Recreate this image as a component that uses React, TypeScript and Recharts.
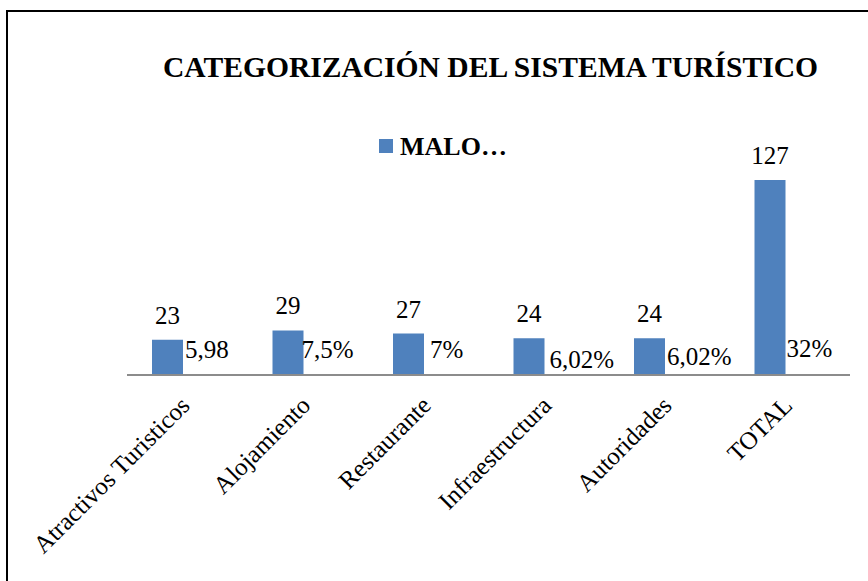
import React from "react";
import { BarChart, Bar, XAxis, YAxis, LabelList } from "recharts";

const categories = [
  "Atractivos Turisticos",
  "Alojamiento",
  "Restaurante",
  "Infraestructura",
  "Autoridades",
  "TOTAL",
];
const malo = [23, 29, 27, 24, 24, 127];
// second series in the original workbook, drawn without fill: only its labels show
const porcentaje = [5.98, 7.5, 7, 6.02, 6.02, 32];
const pctLabels = ["5,98", "7,5%", "7%", "6,02%", "6,02%", "32%"];

// hand-placed percentage labels: x nudge from the hidden bar's left edge, rise above the baseline
const pctNudge = [
  { dx: -6, rise: 17 },
  { dx: -10, rise: 17 },
  { dx: -2, rise: 17 },
  { dx: -3, rise: 7 },
  { dx: -6, rise: 10 },
  { dx: -7, rise: 18 },
];

const data = categories.map((name, i) => ({
  name,
  malo: malo[i],
  porcentaje: porcentaje[i],
  pct: pctLabels[i],
}));

const SERIF = "Liberation Serif, Times New Roman, serif";
const BLUE = "#4F81BD";
const serifStyle = { fontFamily: SERIF };

function CategoryTick(props: any) {
  const { x, y, payload } = props;
  const ax = x + 4;
  const ay = y + 24;
  return (
    <text
      x={ax}
      y={ay}
      textAnchor="end"
      transform={`rotate(-45, ${ax}, ${ay})`}
      style={serifStyle}
      fontSize={25}
      fill="#000"
    >
      {payload.value}
    </text>
  );
}

function PctLabel(props: any) {
  const { x, y, height, index } = props;
  const n = pctNudge[index] || { dx: 0, rise: 17 };
  return (
    <text x={x + n.dx} y={y + height - n.rise} style={serifStyle} fontSize={25} fill="#000">
      {pctLabels[index]}
    </text>
  );
}

function ValueLabel(props: any) {
  const { x, y, width, value } = props;
  return (
    <text x={x + width / 2} y={y - 16} textAnchor="middle" style={serifStyle} fontSize={25} fill="#000">
      {value}
    </text>
  );
}

export default function App() {
  return (
    <div
      style={{
        position: "absolute",
        left: 0,
        top: 0,
        width: 868,
        height: 581,
        overflow: "hidden",
        background: "#fff",
        fontFamily: SERIF,
      }}
    >
      {/* chart frame, runs off the right and bottom edges */}
      <div
        style={{
          position: "absolute",
          left: 6,
          top: 10,
          width: 1000,
          height: 800,
          border: "2px solid #000",
        }}
      />
      <div style={{ position: "absolute", left: 0, top: 0 }}>
        <BarChart
          width={868}
          height={581}
          data={data}
          margin={{ top: 160, right: 18, bottom: 146, left: 127 }}
          barSize={31}
          barGap={8}
        >
          <XAxis
            dataKey="name"
            height={60}
            axisLine={{ stroke: "#8C8C8C", strokeWidth: 2 }}
            tickLine={false}
            tick={<CategoryTick />}
            interval={0}
          />
          <YAxis hide domain={[0, 140]} />
          <Bar dataKey="malo" fill={BLUE} isAnimationActive={false}>
            <LabelList dataKey="malo" content={<ValueLabel />} />
          </Bar>
          <Bar dataKey="porcentaje" fill="none" isAnimationActive={false}>
            <LabelList dataKey="pct" content={<PctLabel />} />
          </Bar>
        </BarChart>
      </div>
      <svg
        width={868}
        height={581}
        style={{ position: "absolute", left: 0, top: 0, pointerEvents: "none" }}
      >
        <text
          x={163}
          y={77}
          textLength={655}
          lengthAdjust="spacingAndGlyphs"
          style={serifStyle}
          fontWeight="bold"
          fontSize={30}
          fill="#000"
        >
          CATEGORIZACIÓN DEL SISTEMA TURÍSTICO
        </text>
        <rect x={379} y={139} width={14} height={14} fill={BLUE} />
        <text x={400} y={155} style={serifStyle} fontWeight="bold" fontSize={26} fill="#000">
          MALO…
        </text>
      </svg>
    </div>
  );
}
